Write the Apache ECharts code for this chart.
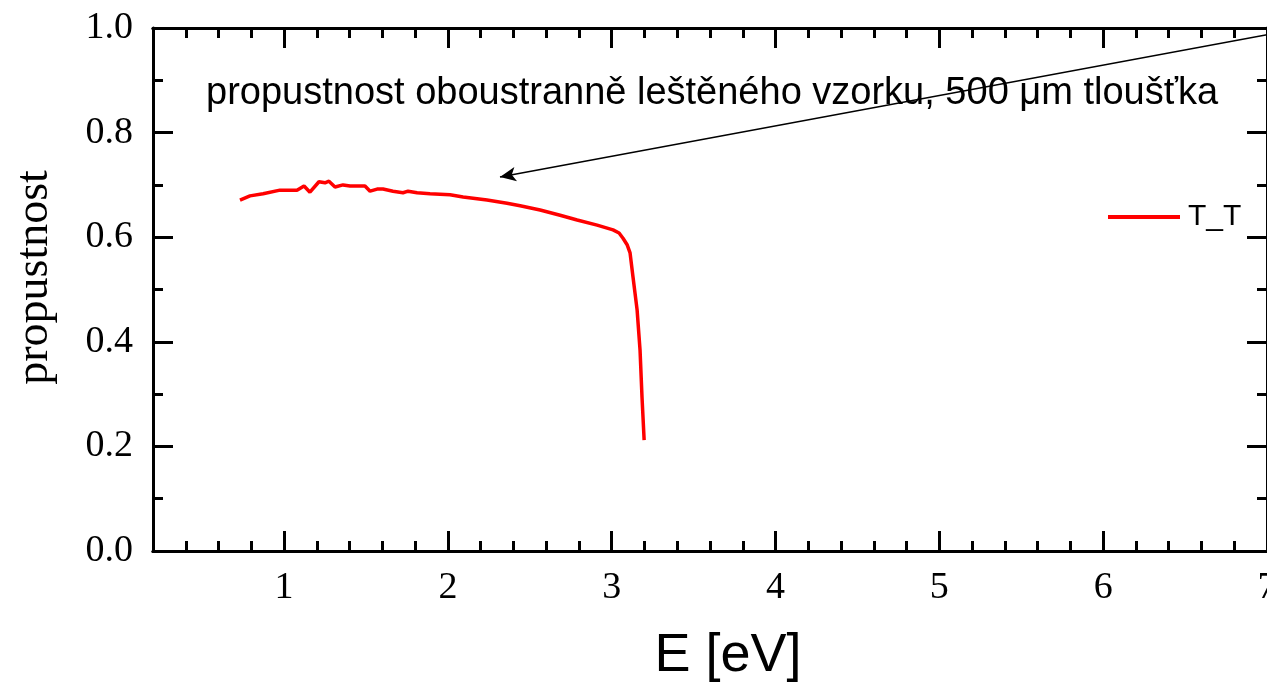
<!DOCTYPE html>
<html>
<head>
<meta charset="utf-8">
<script src="https://cdn.jsdelivr.net/npm/echarts@6/dist/echarts.min.js"></script>
<style>html,body{margin:0;padding:0;background:#fff}#c{width:1267px;height:683px}</style>
</head>
<body>
<div id="c"></div>
<script>
// Energy E [eV]
const energy = [0.731,0.792,0.872,0.975,1.079,1.122,1.158,1.213,1.250,1.274,1.311,1.360,1.403,1.494,1.525,1.568,1.604,1.665,1.726,1.757,1.812,1.891,2.013,2.093,2.239,2.361,2.441,2.563,2.685,2.789,2.911,3.008,3.045,3.069,3.095,3.112,3.130,3.155,3.173,3.185,3.198];
// transmittance T_T
const transmit = [0.671,0.679,0.683,0.690,0.690,0.698,0.686,0.706,0.704,0.707,0.696,0.700,0.698,0.698,0.688,0.692,0.692,0.688,0.685,0.688,0.685,0.683,0.681,0.677,0.671,0.665,0.660,0.652,0.642,0.633,0.623,0.614,0.608,0.598,0.585,0.570,0.524,0.461,0.384,0.294,0.212];
const xMajorTicks = [1,2,3,4,5,6,7];
const xMinorTicks = [0.4,0.6,0.8,1.2,1.4,1.6,1.8,2.2,2.4,2.6,2.8,3.2,3.4,3.6,3.8,4.2,4.4,4.6,4.8,5.2,5.4,5.6,5.8,6.2,6.4,6.6,6.8];
const arrowFrom = [7.0, 0.987];
const arrowTo = [2.318, 0.715];
const annotation = 'propustnost oboustranně leštěného vzorku, 500 μm tloušťka';
const seriesName = 'T_T';

const serif = 'Liberation Serif';
const sans = 'Liberation Sans';
const X_MIN = 0.2, X_MAX = 7;

function xAx(pos, ticks, len, showLabel, extra) {
  return Object.assign({
    type: 'value', position: pos, min: X_MIN, max: X_MAX,
    axisLine: { show: true, onZero: false, lineStyle: { color: '#000', width: 3 } },
    axisTick: { show: true, inside: true, length: len, customValues: ticks, lineStyle: { color: '#000', width: 3 } },
    axisLabel: showLabel ? { show: true, customValues: ticks, margin: 18, fontFamily: serif, fontSize: 38, color: '#000', hideOverlap: false } : { show: false },
    splitLine: { show: false }
  }, extra || {});
}
function yAx(pos, showLabel, extra) {
  return Object.assign({
    type: 'value', position: pos, min: 0, max: 1, interval: 0.2,
    axisLine: { show: true, onZero: false, lineStyle: { color: '#000', width: 3 } },
    axisTick: { show: true, inside: true, length: 20, lineStyle: { color: '#000', width: 3 } },
    minorTick: { show: true, splitNumber: 2, length: 10, lineStyle: { color: '#000', width: 3 } },
    axisLabel: showLabel ? { show: true, margin: 20, fontFamily: serif, fontSize: 38, color: '#000', formatter: v => v.toFixed(1) } : { show: false },
    splitLine: { show: false }, minorSplitLine: { show: false }
  }, extra || {});
}

const chart = echarts.init(document.getElementById('c'), null, { renderer: 'canvas' });
chart.setOption({
  animation: false,
  backgroundColor: '#fff',
  title: {
    text: annotation, left: 201, top: 70,
    textStyle: { fontFamily: sans, fontSize: 38, fontWeight: 'normal', color: '#000' }
  },
  legend: {
    data: [seriesName], left: 1103, top: 197, icon: 'rect', itemWidth: 72, itemHeight: 4,
    textStyle: { fontFamily: sans, fontSize: 30, color: '#000', padding: [0, 0, 0, 3] }
  },
  grid: { left: 153, right: 0, top: 28, bottom: 132, containLabel: false, outerBoundsMode: 'none' },
  xAxis: [
    xAx('bottom', xMajorTicks, 20, true, { name: 'E [eV]', nameLocation: 'middle', nameGap: 78,
      nameTextStyle: { fontFamily: sans, fontSize: 54, color: '#000', padding: [0, 0, 0, 36] } }),
    xAx('bottom', xMinorTicks, 10, false),
    xAx('top', xMajorTicks, 20, false),
    xAx('top', xMinorTicks, 10, false)
  ],
  yAxis: [
    yAx('left', true, { name: 'propustnost', nameLocation: 'middle', nameGap: 95,
      nameTextStyle: { fontFamily: serif, fontSize: 46, color: '#000', padding: [0, 0, 0, 24] } }),
    yAx('right', false)
  ],
  series: [{
    name: seriesName, type: 'line', xAxisIndex: 0, yAxisIndex: 0,
    data: energy.map((e, i) => [e, transmit[i]]),
    showSymbol: false, smooth: false,
    lineStyle: { color: '#ff0000', width: 3.5 }, itemStyle: { color: '#ff0000' },
    markLine: {
      silent: true, animation: false,
      symbol: ['none', 'arrow'], symbolSize: [11, 16],
      label: { show: false },
      lineStyle: { color: '#000', width: 1.5, type: 'solid' },
      data: [[{ coord: arrowFrom }, { coord: arrowTo }]]
    }
  }]
});
</script>
</body>
</html>
